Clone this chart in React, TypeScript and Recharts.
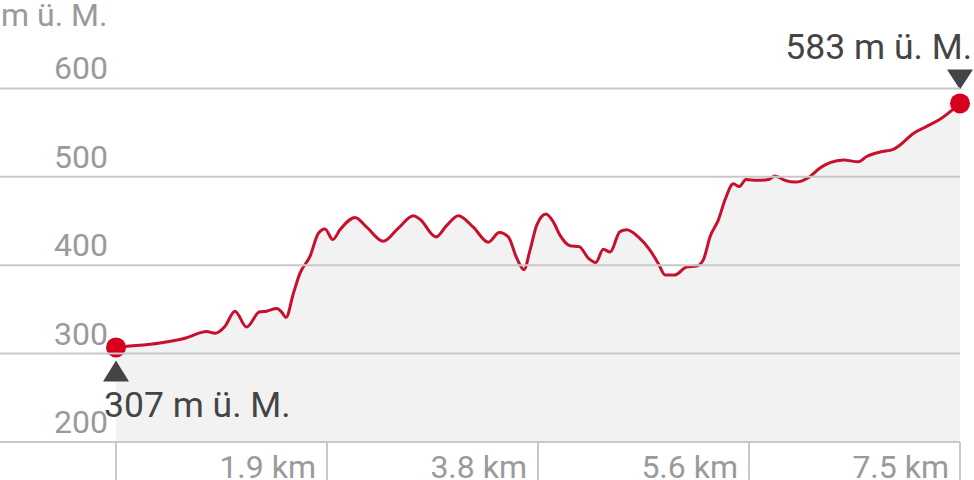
import { AreaChart, Area, XAxis, YAxis, ReferenceDot } from "recharts"

const distanceKm = [
  0, 0.08, 0.391, 0.628, 0.806, 0.88, 0.969, 1.057, 1.161, 1.273, 1.339, 1.428, 1.472, 1.511,
  1.576, 1.635, 1.724, 1.798, 1.857, 1.926, 1.99, 2.124, 2.228, 2.375, 2.509, 2.642, 2.701,
  2.844, 2.939, 3.042, 3.175, 3.308, 3.406, 3.486, 3.561, 3.626, 3.679, 3.738, 3.821, 3.886,
  3.945, 4.034, 4.117, 4.197, 4.263, 4.33, 4.39, 4.479, 4.538, 4.641, 4.745, 4.819, 4.879,
  4.967, 5.071, 5.16, 5.219, 5.278, 5.352, 5.412, 5.486, 5.539, 5.598, 5.693, 5.797, 5.856,
  5.945, 6.034, 6.152, 6.256, 6.345, 6.463, 6.596, 6.671, 6.789, 6.907, 6.967, 7.085, 7.204,
  7.322, 7.5,
]

const elevationM = [
  307, 308, 312, 318, 325, 323, 331, 348, 330, 347, 348, 351, 347, 341,
  368, 391, 410, 436, 441, 429, 440, 454, 443, 427, 442, 456, 452,
  432, 445, 456, 443, 426, 437, 432, 408, 395, 417, 445, 458, 449,
  434, 422, 421, 408, 403, 418, 415, 438, 440, 432, 417, 402, 389,
  389, 398, 399, 406, 432, 451, 474, 492, 489, 497, 496, 497, 501,
  496, 494, 499, 510, 516, 519, 517, 523, 528, 531, 536, 549, 557,
  565, 583,
]

const yTicks = [200, 300, 400, 500, 600]
const xTicks = [0, 1.875, 3.75, 5.625, 7.5]
const xTickLabels = ["", "1.9 km", "3.8 km", "5.6 km", "7.5 km"]
const unitLabel = "m ü. M."
const markerUnit = " m ü. M."

const W = 974
const H = 480
const PLOT_RIGHT = 960
const RED = "#c8102e"
const DOT_RED = "#d4001c"
const GRID = "#c8c8c8"
const LABEL_GREY = "#9a9a9a"
const DARK = "#444444"
const FONT = "Roboto"

const chartData = distanceKm.map((km, i) => ({ km, elevation: elevationM[i] }))

function ElevationTick(props: any) {
  const { y, payload } = props
  return (
    <g>
      <line x1={0} x2={PLOT_RIGHT} y1={y} y2={y} stroke={GRID} strokeWidth={2} />
      <text x={108} y={y - 9} textAnchor="end" fill={LABEL_GREY} fontSize={32} fontFamily={FONT}>
        {payload.value}
      </text>
    </g>
  )
}

function DistanceTick(props: any) {
  const { x, y, index } = props
  return (
    <g>
      <line x1={x} x2={x} y1={y} y2={y + 40} stroke={GRID} strokeWidth={2} />
      <text x={x - 11} y={y + 36} textAnchor="end" fill={LABEL_GREY} fontSize={32} fontFamily={FONT}>
        {xTickLabels[index]}
      </text>
    </g>
  )
}

function StartMarker(props: any) {
  const { cx, cy } = props
  return (
    <g>
      <circle cx={cx} cy={cy} r={10} fill={DOT_RED} />
      <polygon points={`${cx},${cy + 13} ${cx - 13},${cy + 34} ${cx + 13},${cy + 34}`} fill={DARK} />
      <text x={cx - 12} y={cy + 70} fill={DARK} fontSize={35.5} fontFamily={FONT}>
        {elevationM[0] + markerUnit}
      </text>
    </g>
  )
}

function EndMarker(props: any) {
  const { cx, cy } = props
  return (
    <g>
      <circle cx={cx} cy={cy} r={10} fill={DOT_RED} />
      <polygon points={`${cx},${cy - 14} ${cx - 13},${cy - 34} ${cx + 13},${cy - 34}`} fill={DARK} />
      <text x={cx + 12} y={cy - 44} textAnchor="end" fill={DARK} fontSize={35.5} fontFamily={FONT}>
        {elevationM[elevationM.length - 1] + markerUnit}
      </text>
    </g>
  )
}

export default function App() {
  const last = chartData.length - 1
  return (
    <div style={{ position: "absolute", left: 0, top: 0, width: W, height: H, background: "#fff" }}>
      <span
        style={{
          position: "absolute",
          left: 1,
          top: -1,
          fontFamily: FONT,
          fontSize: 32,
          lineHeight: "32px",
          color: LABEL_GREY,
          whiteSpace: "nowrap",
        }}
      >
        {unitLabel}
      </span>
      <AreaChart width={W} height={H} data={chartData} margin={{ top: 0, right: W - PLOT_RIGHT, left: 0, bottom: 0 }}>
        <XAxis
          dataKey="km"
          type="number"
          domain={[0, 7.5]}
          ticks={xTicks}
          height={38}
          tickLine={false}
          axisLine={false}
          tickSize={0}
          tickMargin={0}
          interval={0}
          tick={<DistanceTick />}
        />
        <YAxis
          domain={[200, 700]}
          ticks={yTicks}
          width={116}
          tickLine={false}
          axisLine={false}
          tickSize={0}
          tickMargin={0}
          interval={0}
          tick={<ElevationTick />}
        />
        <Area
          type="monotone"
          dataKey="elevation"
          baseValue={200}
          stroke={RED}
          strokeWidth={3}
          fill="#000"
          fillOpacity={0.05}
          dot={false}
          activeDot={false}
          isAnimationActive={false}
        />
        <ReferenceDot x={chartData[0].km} y={chartData[0].elevation} ifOverflow="visible" shape={<StartMarker />} />
        <ReferenceDot x={chartData[last].km} y={chartData[last].elevation} ifOverflow="visible" shape={<EndMarker />} />
      </AreaChart>
    </div>
  )
}
